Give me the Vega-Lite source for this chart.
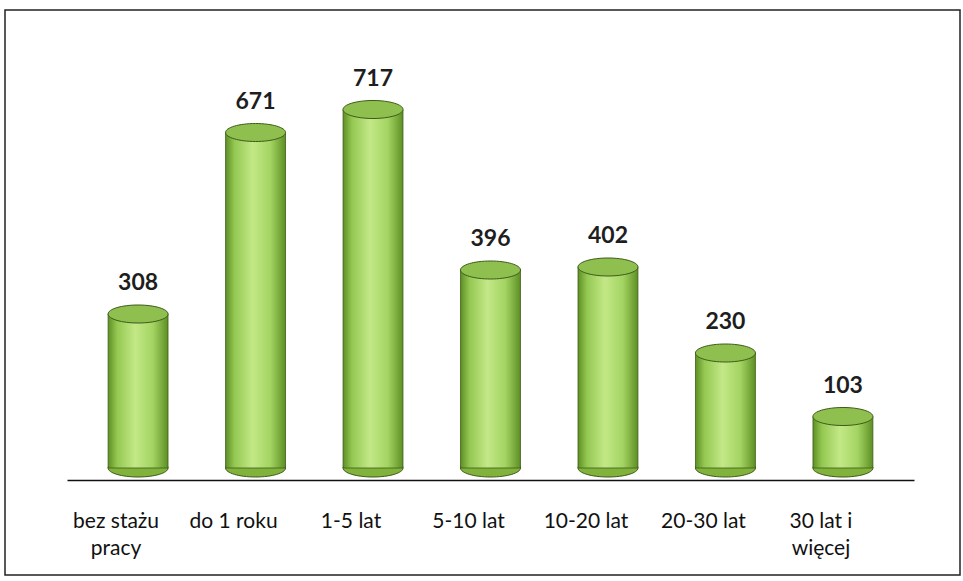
{
  "$schema": "https://vega.github.io/schema/vega-lite/v6.json",
  "autosize": {"type": "none"},
  "padding": {"left": 5, "top": 10, "right": 3, "bottom": 6},
  "width": 955,
  "height": 565,
  "background": "white",
  "config": {
    "view": {"stroke": "#222", "strokeWidth": 1.5},
    "font": "Lato"
  },
  "data": {
    "values": [
      {"kat": "bez stażu pracy", "n": 308},
      {"kat": "do 1 roku", "n": 671},
      {"kat": "1-5 lat", "n": 717},
      {"kat": "5-10 lat", "n": 396},
      {"kat": "10-20 lat", "n": 402},
      {"kat": "20-30 lat", "n": 230},
      {"kat": "30 lat i więcej", "n": 103}
    ]
  },
  "encoding": {
    "x": {
      "field": "kat",
      "type": "nominal",
      "sort": null,
      "scale": {"range": [62, 909], "paddingInner": 0.49, "paddingOuter": 0.35},
      "axis": {
        "title": null,
        "orient": "bottom",
        "offset": -95,
        "labelAngle": 0,
        "ticks": false,
        "domainColor": "#111",
        "domainWidth": 1.5,
        "labelFont": "Lato",
        "labelFontSize": 21,
        "labelColor": "#111",
        "labelPadding": 30,
        "labelOffset": -22,
        "labelLineHeight": 27,
        "labelExpr": "datum.label == 'bez stażu pracy' ? ['bez stażu', 'pracy'] : datum.label == '30 lat i więcej' ? ['30 lat i', 'więcej'] : datum.label"
      }
    },
    "y": {
      "field": "n",
      "type": "quantitative",
      "scale": {"domain": [-214, 916], "nice": false, "zero": false},
      "axis": null
    }
  },
  "layer": [
    {
      "mark": {
        "type": "point",
        "shape": "M -1 0 A 1 0.3 0 1 1 1 0 A 1 0.3 0 1 1 -1 0 Z",
        "size": 3600,
        "filled": true,
        "opacity": 1,
        "fill": "#80b23c",
        "stroke": "#3c5a18",
        "strokeWidth": 1
      },
      "encoding": {
        "y": {"datum": 0, "type": "quantitative"}
      }
    },
    {
      "mark": {
        "type": "bar",
        "fill": {
          "gradient": "linear",
          "x1": 0, "x2": 1, "y1": 0, "y2": 0,
          "stops": [
            {"offset": 0, "color": "#5e8f24"},
            {"offset": 0.15, "color": "#94c852"},
            {"offset": 0.45, "color": "#c3e887"},
            {"offset": 0.75, "color": "#a3d462"},
            {"offset": 1, "color": "#5e8f24"}
          ]
        },
        "stroke": "#3c5a18",
        "strokeWidth": 0.8
      },
      "encoding": {
        "y2": {"datum": 0}
      }
    },
    {
      "mark": {
        "type": "point",
        "shape": "M -1 0 A 1 0.3 0 1 1 1 0 A 1 0.3 0 1 1 -1 0 Z",
        "size": 3600,
        "filled": true,
        "opacity": 1,
        "fill": "#8fbf4e",
        "stroke": "#3c5a18",
        "strokeWidth": 1
      }
    },
    {
      "mark": {
        "type": "text",
        "baseline": "alphabetic",
        "dy": -24,
        "font": "Lato",
        "fontSize": 23,
        "fontWeight": "bold",
        "color": "#1e1e1e"
      },
      "encoding": {
        "text": {"field": "n", "type": "quantitative"}
      }
    }
  ]
}
